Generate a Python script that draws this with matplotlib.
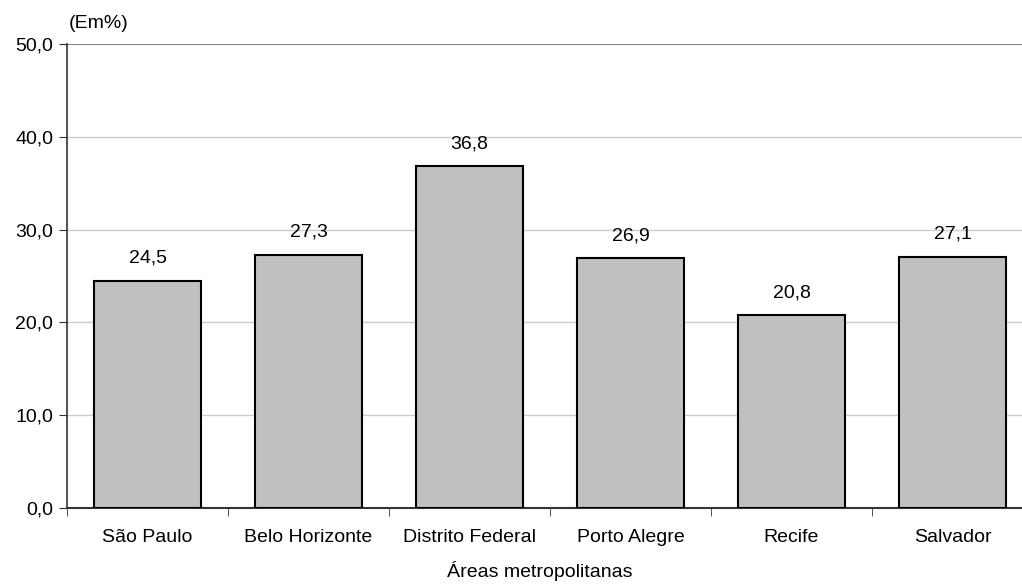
import numpy as np
import matplotlib
matplotlib.use('Agg')
import matplotlib.pyplot as plt

plt.rcParams['font.family'] = ['Liberation Sans', 'DejaVu Sans']

areas = ['São Paulo', 'Belo Horizonte', 'Distrito Federal', 'Porto Alegre', 'Recife', 'Salvador']
valores = [24.5, 27.3, 36.8, 26.9, 20.8, 27.1]
yticks = [0, 10, 20, 30, 40, 50]

fs = 14
fig = plt.figure(figsize=(10.22, 5.84), dpi=100)
ax = fig.add_axes([67/1022, 1-508/584, 966/1022, 464/584])

x = np.arange(len(areas))
ax.bar(x, valores, width=0.667, color='#C0C0C0', edgecolor='black', linewidth=1.5, zorder=3)

for xi, v in zip(x, valores):
    ax.annotate(('%.1f' % v).replace('.', ','), (xi, v), xytext=(0, 10), textcoords='offset points',
                ha='center', va='bottom', fontsize=fs)

ax.set_xlim(-0.5, len(areas) - 0.5)
ax.set_ylim(0, 50)
ax.set_yticks(yticks)
ax.set_yticklabels([('%.1f' % t).replace('.', ',') for t in yticks], fontsize=fs)
for t in yticks[1:-1]:
    ax.axhline(t, color='#CCCCCC', linewidth=1, zorder=1)
ax.axhline(50, color='#888888', linewidth=1.5, zorder=1)

ax.set_xticks(x)
ax.set_xticklabels(areas, fontsize=fs)
ax.tick_params(axis='x', length=0, pad=15)
ax.set_xticks(np.arange(-0.5, len(areas)), minor=True)
ax.tick_params(axis='x', which='minor', length=6, direction='out', color='#333333')
ax.tick_params(axis='y', length=6, direction='out', color='#333333', pad=4)

for s in ['top', 'right']:
    ax.spines[s].set_visible(False)
ax.spines['left'].set_color('#333333')
ax.spines['bottom'].set_color('#333333')
ax.spines['left'].set_linewidth(1.2)
ax.spines['bottom'].set_linewidth(1.5)

fig.text(540/1022, 3/584, 'Áreas metropolitanas', fontsize=fs, va='bottom', ha='center')
fig.text(69/1022, 1-24/584, '(Em%)', fontsize=fs, va='center', ha='left')

fig.savefig('out.png', dpi=100)
